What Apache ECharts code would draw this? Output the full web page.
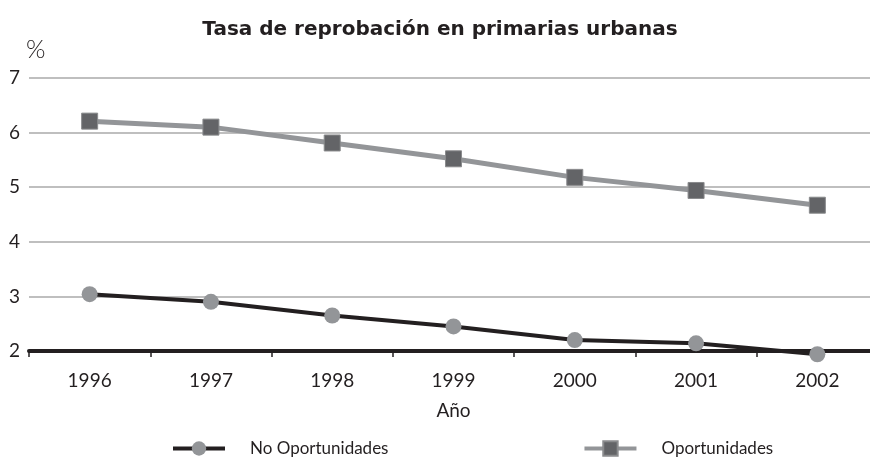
<!DOCTYPE html>
<html>
<head>
<meta charset="utf-8">
<script src="https://cdn.jsdelivr.net/npm/echarts@6/dist/echarts.min.js"></script>
<style>
    html, body { margin: 0; padding: 0; background: #fff; overflow: hidden; }
    #main { width: 880px; height: 460px; }
</style>
</head>
<body>
<div id="main"></div>
<script>
var years = ['1996', '1997', '1998', '1999', '2000', '2001', '2002'];
var noOportunidades = [3.04, 2.90, 2.65, 2.45, 2.20, 2.14, 1.94];
var oportunidades = [6.21, 6.10, 5.81, 5.52, 5.18, 4.94, 4.67];
var yTicks = [2, 3, 4, 5, 6, 7];

(function(){
    var labelFont = 'Lato';
    // plot runs a bit past the right edge of the 870px window, as in the original
    var chart = echarts.init(document.getElementById('main'));
    var option = {
        animation: false,
        title: {
            text: 'Tasa de reprobación en primarias urbanas',
            left: 'center',
            top: 15,
            textStyle: {
                fontFamily: 'DejaVu Sans',
                fontWeight: 'bold',
                fontSize: 20,
                color: '#231f20'
            }
        },
        legend: {
            left: 166,
            top: 435,
            itemWidth: 52,
            itemHeight: 18,
            itemGap: 194,
            lineStyle: { width: 4 },
            textStyle: {
                fontFamily: labelFont,
                fontSize: 17,
                color: '#231f20',
                padding: [0, 0, 0, 20]
            },
            data: ['No Oportunidades', 'Oportunidades']
        },
        grid: {
            left: 29,
            top: 78,
            width: 849,
            height: 273
        },
        xAxis: {
            type: 'category',
            data: years,
            boundaryGap: true,
            name: 'Año',
            nameLocation: 'middle',
            nameGap: 50,
            nameTextStyle: {
                fontFamily: labelFont,
                fontSize: 19,
                color: '#231f20'
            },
            axisLine: {
                lineStyle: { color: '#231f20', width: 4 }
            },
            axisTick: {
                show: true,
                interval: 0,
                length: 6,
                lineStyle: { color: '#231f20', width: 1.5 }
            },
            axisLabel: {
                margin: 20,
                fontFamily: labelFont,
                fontSize: 19,
                color: '#231f20'
            }
        },
        yAxis: {
            type: 'value',
            min: yTicks[0],
            max: yTicks[yTicks.length - 1],
            interval: 1,
            name: '%',
            nameGap: 16,
            nameTextStyle: {
                fontFamily: labelFont,
                fontWeight: 300,
                fontSize: 25,
                color: '#231f20',
                align: 'left',
                padding: [0, 0, 0, -3]
            },
            axisLine: { show: false },
            axisTick: { show: false },
            axisLabel: {
                margin: 9,
                fontFamily: labelFont,
                fontSize: 19,
                color: '#231f20'
            },
            splitLine: {
                lineStyle: { color: '#aaaaaa', width: 1.5 }
            }
        },
        series: [{
            name: 'No Oportunidades',
            type: 'line',
            clip: false,
            data: noOportunidades,
            symbol: 'circle',
            symbolSize: 16,
            lineStyle: { color: '#231f20', width: 4 },
            itemStyle: { color: '#939598' },
            z: 3
        }, {
            name: 'Oportunidades',
            type: 'line',
            clip: false,
            data: oportunidades,
            symbol: 'rect',
            symbolSize: 16,
            lineStyle: { color: '#939598', width: 5 },
            itemStyle: { color: '#636467', borderColor: '#8a8b8d', borderWidth: 1 },
            z: 3
        }]
    };
    chart.setOption(option);
})();
</script>
</body>
</html>
